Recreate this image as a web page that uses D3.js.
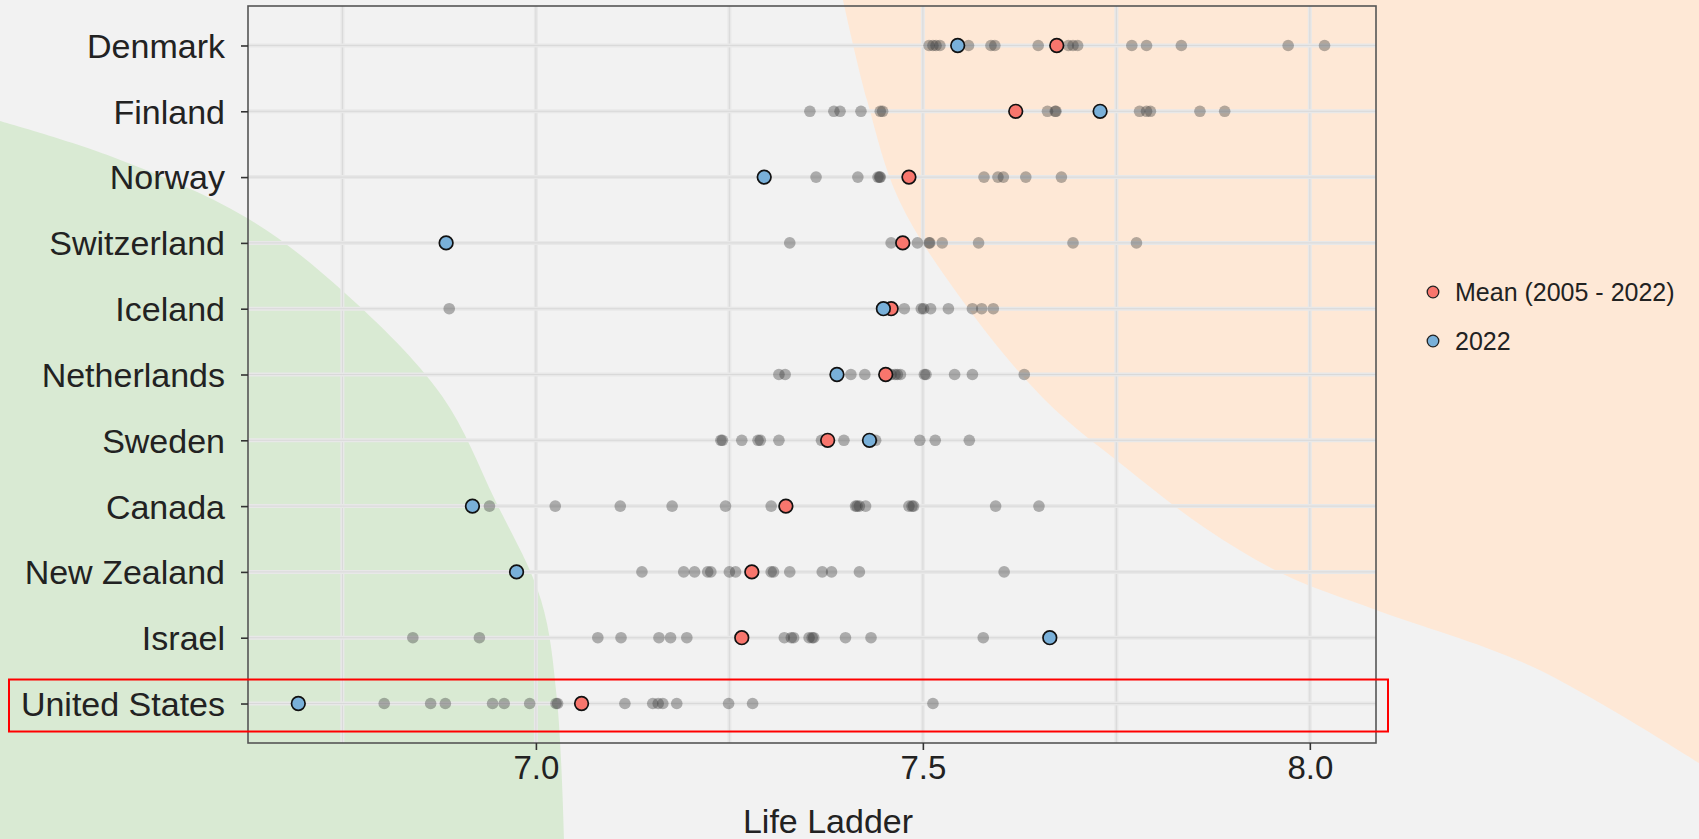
<!DOCTYPE html>
<html>
<head>
<meta charset="utf-8">
<script src="https://cdn.jsdelivr.net/npm/d3@7"></script>
<style>
  html, body { margin: 0; padding: 0; background: #f2f2f2; }
  svg { display: block; font-family: "Liberation Sans", Arial, Helvetica, sans-serif; }
</style>
</head>
<body>
<svg id="chart" width="1699" height="839"></svg>
<script>
// --- data ---
const countries = ["Denmark", "Finland", "Norway", "Switzerland", "Iceland",
  "Netherlands", "Sweden", "Canada", "New Zealand", "Israel", "United States"];

const meanScores = [7.673, 7.620, 7.482, 7.474, 7.459, 7.452, 7.377, 7.323, 7.279, 7.266, 7.059];
const scores2022 = [7.545, 7.729, 7.295, 6.884, 7.449, 7.389, 7.431, 6.918, 6.975, 7.664, 6.693];

// every yearly score, one list per country (same order as countries)
const yearlyScores = [
  [8.019, 7.834, 7.972, 7.688, 7.770, 7.789, 7.522, 7.588, 7.508, 7.513, 7.559, 7.593, 7.649, 7.694, 7.517, 7.700, 7.545],
  [7.672, 7.671, 7.393, 7.354, 7.420, 7.445, 7.385, 7.448, 7.661, 7.789, 7.858, 7.780, 7.890, 7.794, 7.729],
  [7.295, 7.362, 7.416, 7.442, 7.444, 7.445, 7.579, 7.597, 7.604, 7.633, 7.679],
  [6.884, 7.328, 7.459, 7.473, 7.474, 7.493, 7.508, 7.509, 7.525, 7.572, 7.694, 7.776],
  [6.888, 7.591, 7.501, 7.498, 7.510, 7.476, 7.533, 7.576, 7.564, 7.449],
  [7.314, 7.322, 7.389, 7.407, 7.425, 7.459, 7.464, 7.467, 7.471, 7.502, 7.504, 7.541, 7.564, 7.631],
  [7.239, 7.241, 7.266, 7.287, 7.290, 7.314, 7.369, 7.375, 7.398, 7.431, 7.434, 7.439, 7.496, 7.516, 7.560],
  [6.918, 6.940, 7.025, 7.109, 7.176, 7.245, 7.304, 7.413, 7.415, 7.418, 7.426, 7.482, 7.486, 7.488, 7.594, 7.650],
  [6.975, 7.137, 7.191, 7.205, 7.222, 7.226, 7.250, 7.258, 7.304, 7.307, 7.328, 7.370, 7.382, 7.418, 7.605],
  [6.841, 6.927, 7.080, 7.110, 7.159, 7.174, 7.195, 7.321, 7.330, 7.333, 7.353, 7.357, 7.359, 7.400, 7.433, 7.578, 7.664],
  [7.182, 7.513, 7.280, 7.158, 7.164, 7.115, 7.026, 7.249, 7.151, 6.864, 6.804, 6.992, 6.883, 6.944, 7.028, 6.959, 6.693]
];

const xTicks = [7.0, 7.5, 8.0];
const xGrid = [6.75, 7.0, 7.25, 7.5, 7.75, 8.0];
const legendLabels = ["Mean (2005 - 2022)", "2022"];
const highlighted = "United States";

// --- frame ---
const svg = d3.select("#chart");
const plot = {left: 248, right: 1376, top: 6, bottom: 743};

const x = d3.scaleLinear().domain([6.628, 8.0855]).range([plot.left, plot.right]);
const y = d3.scalePoint().domain(countries).range([plot.top, plot.bottom]).padding(0.6);

const RED = "#f8766d", BLUE = "#79b0d9";

// --- decorative background blobs ---
const blob = d3.line().curve(d3.curveCatmullRom.alpha(0.5));
const greenEdge = [[0, 121], [110, 156], [247, 218], [346, 294], [442, 396], [495, 500], [541, 600], [557, 700], [564, 839]];
const orangeEdge = [[843, 0], [867, 100], [899, 200], [962, 300], [1045, 400], [1125, 467], [1205, 528], [1285, 575], [1376, 610], [1533, 667], [1699, 763]];

svg.append("path")
  .attr("d", blob(greenEdge) + "L0,839Z")
  .attr("fill", "#d9ead3");
svg.append("path")
  .attr("d", blob(orangeEdge) + "L1699,0Z")
  .attr("fill", "#fee8d6");

// --- grid ---
const grid = svg.append("g");
xGrid.forEach(v => {
  grid.append("line").attr("x1", x(v)).attr("x2", x(v)).attr("y1", plot.top).attr("y2", plot.bottom)
    .attr("stroke", "#e8e8e8").attr("stroke-width", 4);
  grid.append("line").attr("x1", x(v)).attr("x2", x(v)).attr("y1", plot.top).attr("y2", plot.bottom)
    .attr("stroke", "#d9d9d9").attr("stroke-width", 1);
});
countries.forEach(c => {
  grid.append("line").attr("x1", plot.left).attr("x2", plot.right).attr("y1", y(c)).attr("y2", y(c))
    .attr("stroke", "#e8e8e8").attr("stroke-width", 4);
  grid.append("line").attr("x1", plot.left).attr("x2", plot.right).attr("y1", y(c)).attr("y2", y(c))
    .attr("stroke", "#d9d9d9").attr("stroke-width", 1);
});

// --- yearly dots ---
const flat = [];
yearlyScores.forEach((vals, i) => vals.forEach(v => flat.push({country: countries[i], value: v})));

svg.append("g").selectAll("circle")
  .data(flat)
  .enter().append("circle")
    .attr("cx", d => x(d.value))
    .attr("cy", d => y(d.country))
    .attr("r", 5.8)
    .attr("fill", "#3a3a3a")
    .attr("fill-opacity", 0.38);

// --- mean and 2022 dots ---
svg.append("g").selectAll("circle")
  .data(countries)
  .enter().append("circle")
    .attr("cx", (d, i) => x(meanScores[i]))
    .attr("cy", d => y(d))
    .attr("r", 6.8)
    .attr("fill", RED)
    .attr("stroke", "#111")
    .attr("stroke-width", 1.7);

svg.append("g").selectAll("circle")
  .data(countries)
  .enter().append("circle")
    .attr("cx", (d, i) => x(scores2022[i]))
    .attr("cy", d => y(d))
    .attr("r", 6.8)
    .attr("fill", BLUE)
    .attr("stroke", "#111")
    .attr("stroke-width", 1.7);

// --- panel border ---
svg.append("rect")
  .attr("x", plot.left).attr("y", plot.top)
  .attr("width", plot.right - plot.left).attr("height", plot.bottom - plot.top)
  .attr("fill", "none").attr("stroke", "#555").attr("stroke-width", 1.6);

// --- axes ---
const xAxis = svg.append("g")
  .attr("transform", `translate(0,${plot.bottom})`)
  .call(d3.axisBottom(x).tickValues(xTicks).tickFormat(d3.format(".1f")).tickSize(7).tickPadding(6));
xAxis.select(".domain").remove();
xAxis.selectAll("line").attr("stroke", "#333").attr("stroke-width", 1.6);
xAxis.selectAll("text").style("font-size", "33px").attr("fill", "#222");

const yAxis = svg.append("g")
  .attr("transform", `translate(${plot.left},0)`)
  .call(d3.axisLeft(y).tickSize(7).tickPadding(16));
yAxis.select(".domain").remove();
yAxis.selectAll("line").attr("stroke", "#333").attr("stroke-width", 1.6);
yAxis.selectAll("text").style("font-size", "34px").attr("fill", "#222").attr("dy", "0.35em");

svg.append("text")
  .attr("x", 828).attr("y", 833)
  .attr("text-anchor", "middle")
  .style("font-size", "34px")
  .attr("fill", "#222")
  .text("Life Ladder");

// --- legend ---
const legend = svg.append("g").attr("transform", "translate(1433,292)");
[RED, BLUE].forEach((col, i) => {
  legend.append("circle").attr("cx", 0).attr("cy", i * 49).attr("r", 5.8)
    .attr("fill", col).attr("stroke", "#222").attr("stroke-width", 1.3);
  legend.append("text").attr("x", 22).attr("y", i * 49).attr("dy", "0.35em")
    .style("font-size", "25px").attr("fill", "#222")
    .text(legendLabels[i]);
});

// --- highlight box around one row ---
svg.append("rect")
  .attr("x", 9).attr("y", y(highlighted) - 24)
  .attr("width", plot.right + 12 - 9).attr("height", 52)
  .attr("fill", "none").attr("stroke", "#ff0000").attr("stroke-width", 2);
</script>
</body>
</html>
